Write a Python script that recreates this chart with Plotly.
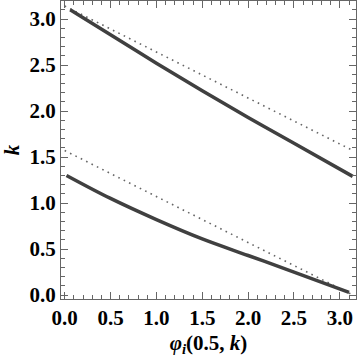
import plotly.graph_objects as go

# Upper solid curve
upper_x = [0.06, 0.5, 1.0, 1.5, 2.0, 2.5, 3.14]
upper_k = [3.10, 2.83, 2.52, 2.22, 1.93, 1.65, 1.29]
# Lower solid curve
lower_x = [0.02, 0.5, 1.0, 1.5, 2.0, 2.5, 3.10]
lower_k = [1.30, 1.05, 0.82, 0.61, 0.43, 0.25, 0.03]
# Dotted reference lines
dot_upper_x = [0.0, 3.1416]
dot_upper_k = [3.1416, 1.5708]
dot_lower_x = [0.0, 3.1416]
dot_lower_k = [1.5708, 0.0]

tick_vals = [0.0, 0.5, 1.0, 1.5, 2.0, 2.5, 3.0]
tick_text = ["0.0", "0.5", "1.0", "1.5", "2.0", "2.5", "3.0"]

fig = go.Figure()
for xs, ks in [(dot_upper_x, dot_upper_k), (dot_lower_x, dot_lower_k)]:
    fig.add_trace(go.Scatter(x=xs, y=ks, mode="lines",
                             line=dict(color="#666666", width=1.6, dash="1.6px,4.4px"),
                             showlegend=False))
for xs, ks in [(upper_x, upper_k), (lower_x, lower_k)]:
    fig.add_trace(go.Scatter(x=xs, y=ks, mode="lines", line_shape="spline",
                             line=dict(color="#404040", width=3.5),
                             showlegend=False))

font = dict(family="Liberation Serif", size=21, color="black", weight="bold")
axis_common = dict(
    showgrid=False, zeroline=False, showline=True, linecolor="#666666", linewidth=1,
    mirror="allticks", ticks="inside", ticklen=7, tickcolor="#666666", tickwidth=1,
    tickvals=tick_vals, ticktext=tick_text, tickfont=font,
    minor=dict(ticks="inside", ticklen=4, dtick=0.1, tickcolor="#666666", tickwidth=1, showgrid=False),
)

fig.update_xaxes(range=[-0.04, 3.176], **axis_common,
                 title=dict(text="<b><i>φ<sub>i</sub></i>(0.5, <i>k</i>)</b>", font=font, standoff=6))
fig.update_yaxes(range=[-0.043, 3.196], **axis_common,
                 title=dict(text="<b><i>k</i></b>", font=font, standoff=6))

fig.update_layout(width=360, height=357, margin=dict(l=61, r=4, t=1, b=58),
                  plot_bgcolor="white", paper_bgcolor="white")
fig.write_html("out.html", config={"displayModeBar": False},
               post_script="document.body.style.margin='0';document.body.style.overflow='hidden';")
